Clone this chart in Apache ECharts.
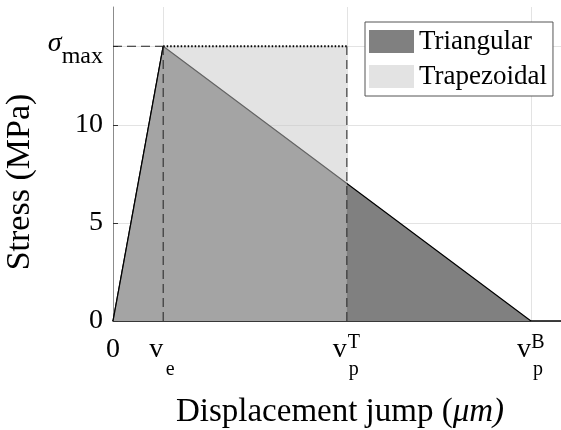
<!DOCTYPE html>
<html>
<head>
<meta charset="utf-8">
<script src="https://cdn.jsdelivr.net/npm/echarts@6/dist/echarts.min.js"></script>
<style>
  html, body { margin: 0; padding: 0; background: #fff; }
  #chart { width: 561px; height: 430px; }
</style>
</head>
<body>
<div id="chart"></div>
<script>
// displacements as a fraction of the axis width, stress in MPa
const vE = 0.112;
const vPT = 0.522;
const vPB = 0.933;
const xMax = 1;
const sigmaMax = 14;
const yMax = 16;

// traction-separation laws
const triX = [0, vE, vPB];
const triY = [0, sigmaMax, 0];
const trapX = [0, vE, vPT, vPT];
const trapY = [0, sigmaMax, sigmaMax, 0];

const legendNames = ['Triangular', 'Trapezoidal'];
const xTickValues = [0, vE, vPT, vPB];
const xTickLabels = ['0', 've', 'vpT', 'vpB'];
const yTickValues = [0, 5, 10, sigmaMax];
const yTickLabels = ['0', '5', '10', 'σmax'];

const FONT = 'Liberation Serif';

function pairs(xs, ys) {
  return xs.map((x, i) => [x, ys[i]]);
}

function xLabel(value) {
  const i = xTickValues.indexOf(value);
  const s = i < 0 ? '' : xTickLabels[i];
  if (s.length < 2) return '{z|' + s + '}';
  // v with subscript and optional superscript stacked to its right
  return '{v|' + s[0] + '}{sup|' + (s[2] || '') + '}\n{vh|' + s[0] + '}{sub|' + s[1] + '}';
}

function yLabel(value) {
  const i = yTickValues.indexOf(value);
  const s = i < 0 ? '' : yTickLabels[i];
  if (s.startsWith('σ')) return '{s|σ}{m|' + s.slice(1) + '}';
  return s;
}

const myChart = echarts.init(document.getElementById('chart'));
myChart.setOption({
  animation: false,
  backgroundColor: '#fff',
  grid: { left: 113, right: 0, top: 7, bottom: 109, outerBoundsMode: 'none' },
  legend: {
    data: [
      { name: legendNames[0], itemStyle: { color: '#808080', opacity: 1, borderWidth: 0 } },
      { name: legendNames[1], itemStyle: { color: '#e3e3e3', opacity: 1, borderWidth: 0 } }
    ],
    orient: 'vertical',
    left: 365,
    top: 22,
    icon: 'rect',
    itemWidth: 45,
    itemHeight: 23,
    itemGap: 8,
    padding: [6, 6, 6, 4],
    borderColor: '#555',
    borderWidth: 1,
    borderRadius: 0,
    backgroundColor: '#fff',
    selectedMode: false,
    textStyle: { fontFamily: FONT, fontSize: 27, color: '#000', lineHeight: 23 }
  },
  xAxis: {
    type: 'value',
    min: 0,
    max: xMax,
    name: '{n|Displacement jump (}{i|μm)}',
    nameLocation: 'middle',
    nameGap: 75,
    nameTextStyle: {
      padding: [0, 0, 0, 6],
      rich: {
        n: { fontFamily: FONT, fontSize: 33, color: '#000' },
        i: { fontFamily: FONT, fontSize: 33, fontStyle: 'italic', color: '#000' }
      }
    },
    axisLine: { show: true, lineStyle: { color: '#000', width: 1.5 } },
    axisTick: { show: false, customValues: xTickValues },
    splitLine: { show: true, lineStyle: { color: '#e3e3e3', width: 1 } },
    axisLabel: {
      customValues: xTickValues,
      margin: 19,
      verticalAlign: 'top',
      formatter: xLabel,
      rich: {
        z: { fontFamily: FONT, fontSize: 28, lineHeight: 20, color: '#000' },
        v: { fontFamily: FONT, fontSize: 28, lineHeight: 20, color: '#000' },
        vh: { fontFamily: FONT, fontSize: 28, lineHeight: 20, color: 'rgba(0,0,0,0)' },
        sup: { fontFamily: FONT, fontSize: 20, lineHeight: 6, padding: [0, 0, 14, 0], width: 14, align: 'left', color: '#000' },
        sub: { fontFamily: FONT, fontSize: 20, lineHeight: 20, width: 14, align: 'left', color: '#000' }
      }
    }
  },
  yAxis: {
    type: 'value',
    min: 0,
    max: yMax,
    name: 'Stress (MPa)',
    nameLocation: 'middle',
    nameGap: 76,
    nameTextStyle: { fontFamily: FONT, fontSize: 34, color: '#000', padding: [0, 36, 0, 0] },
    axisLine: { show: true, lineStyle: { color: '#8c8c8c', width: 1 } },
    axisTick: { show: true, inside: true, length: 5, customValues: yTickValues, lineStyle: { color: '#333' } },
    splitLine: { show: true, lineStyle: { color: '#e3e3e3', width: 1 } },
    axisLabel: {
      customValues: yTickValues,
      margin: 10,
      fontFamily: FONT,
      fontSize: 28,
      color: '#000',
      formatter: yLabel,
      rich: {
        s: { fontFamily: FONT, fontSize: 28, fontStyle: 'italic', lineHeight: 28, padding: [5, 0, 11, 0], color: '#000' },
        m: { fontFamily: FONT, fontSize: 24, lineHeight: 24, padding: [20, 0, 0, 0], color: '#000' }
      }
    }
  },
  series: [
    {
      name: legendNames[0],
      type: 'line',
      data: pairs(triX, triY),
      symbol: 'none',
      itemStyle: { color: '#808080' },
      lineStyle: { color: '#000', width: 1.2 },
      areaStyle: { color: '#808080', opacity: 1 },
      z: 2
    },
    {
      name: legendNames[1],
      type: 'line',
      data: pairs(trapX, trapY),
      symbol: 'none',
      itemStyle: { color: '#c8c8c8' },
      lineStyle: { width: 0, opacity: 0 },
      areaStyle: { color: '#c8c8c8', opacity: 0.5 },
      z: 3
    },
    {
      // rising branch
      name: 'edge-rise',
      type: 'line',
      data: pairs(trapX.slice(0, 2), trapY.slice(0, 2)),
      symbol: 'none',
      silent: true,
      lineStyle: { color: '#000', width: 1.2 },
      z: 4
    },
    {
      // plateau of the trapezoid
      name: 'edge-top',
      type: 'line',
      data: pairs(trapX.slice(1, 3), trapY.slice(1, 3)),
      symbol: 'none',
      silent: true,
      lineStyle: { color: '#000', width: 1.8, type: [1.5, 2] },
      z: 4
    },
    {
      // reference dashes at sigma_max, v_e and v_p^T
      name: 'edge-dash',
      type: 'line',
      data: [[0, sigmaMax], [vE, sigmaMax], null, [vE, 0], [vE, sigmaMax], null, [vPT, 0], [vPT, sigmaMax]],
      connectNulls: false,
      symbol: 'none',
      silent: true,
      lineStyle: { color: '#222', width: 1, type: [9, 5] },
      z: 4
    }
  ]
});
window.onresize = function () {
  myChart.resize();
};
</script>
</body>
</html>
